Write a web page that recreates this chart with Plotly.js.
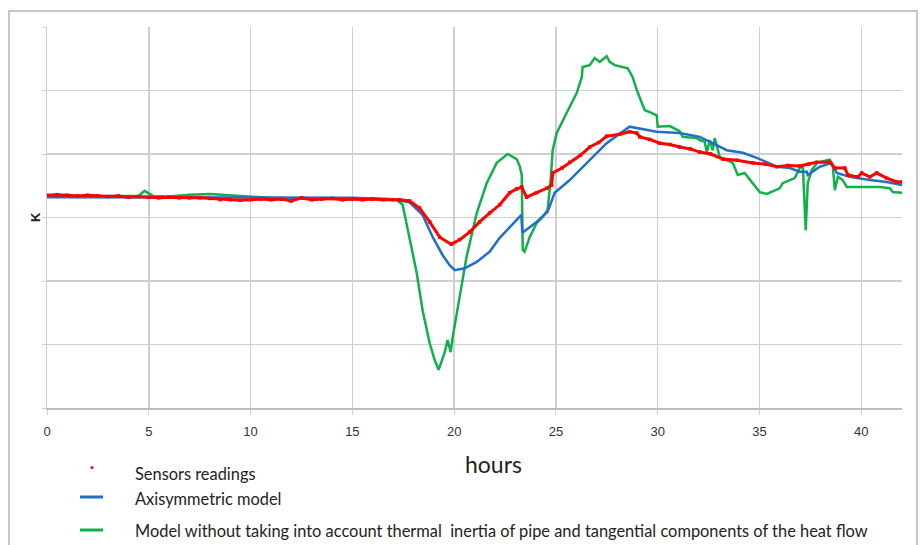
<!DOCTYPE html>
<html>
<head>
<meta charset="utf-8">
<script src="https://cdn.plot.ly/plotly-3.0.1.min.js"></script>
<style>html,body{margin:0;padding:0;background:#fff;}#chart{width:920px;height:545px;}</style>
</head>
<body>
<div id="chart"></div>
<script>
// Hours
const sensorHours = [0,0.5,1,1.5,2,2.5,3,3.5,4,4.5,5,5.5,6,6.5,7,7.5,8,8.5,9,9.5,10,10.5,11,11.5,12,12.5,13,13.5,14,14.5,15,15.5,16,16.5,17,17.32,17.81,18.3,18.8,19.29,19.86,20.27,20.76,21.25,21.74,22.24,22.73,23.07,23.32,23.56,24.05,24.55,24.79,24.84,25.3,25.68,26.2,26.66,27.1,27.49,28.13,28.62,28.97,29.12,29.6,30.1,30.6,31.08,31.6,32.06,32.6,33.2,33.9,34.67,35.3,35.85,36.4,36.98,37.4,37.81,38.45,38.7,39.19,39.34,39.83,40.02,40.42,40.76,41.25,41.74,42];
const sensorK = [3.35,3.36,3.35,3.34,3.35,3.34,3.33,3.34,3.32,3.33,3.32,3.31,3.32,3.31,3.31,3.31,3.30,3.28,3.28,3.27,3.28,3.29,3.28,3.29,3.26,3.31,3.28,3.29,3.30,3.28,3.29,3.28,3.29,3.28,3.28,3.28,3.26,3.15,2.93,2.69,2.58,2.65,2.77,2.93,3.07,3.20,3.39,3.45,3.48,3.32,3.39,3.46,3.51,3.70,3.78,3.87,3.98,4.11,4.18,4.28,4.31,4.35,4.33,4.27,4.23,4.17,4.15,4.11,4.08,4.03,4.00,3.92,3.90,3.86,3.84,3.80,3.82,3.81,3.84,3.87,3.87,3.78,3.78,3.67,3.64,3.70,3.64,3.70,3.62,3.56,3.56];

const axiHours = [0,5,10,12,15,16.83,17.81,18.45,18.95,19.43,19.78,20.03,20.52,21.11,21.74,22.24,22.73,23.3,23.35,24.05,24.59,24.94,25.68,26.51,27.49,28.62,28.97,29.95,31.08,32.06,32.7,33.39,34.18,34.87,35.85,36.49,36.98,37.32,37.37,37.96,38.55,38.8,39.43,40.42,41.25,42];
const axiK = [3.32,3.32,3.32,3.31,3.31,3.29,3.24,3.04,2.69,2.41,2.25,2.17,2.20,2.30,2.46,2.68,2.85,3.04,2.76,2.93,3.09,3.39,3.59,3.86,4.17,4.43,4.41,4.35,4.33,4.27,4.17,4.06,4.02,3.94,3.80,3.78,3.72,3.72,3.67,3.80,3.86,3.70,3.64,3.59,3.56,3.51];

const simpleHours = [0,2,4,4.5,4.79,5.2,6,7,8,9,10,11,12,13,14,15,16,16.83,17.17,17.47,17.81,18.16,18.45,18.8,19.04,19.24,19.53,19.68,19.83,19.93,20.27,20.61,21.11,21.6,22.09,22.63,23.07,23.22,23.32,23.37,23.46,23.71,24.05,24.35,24.59,24.74,24.84,25.04,25.53,26.02,26.27,26.31,26.66,26.9,27.15,27.49,27.64,27.89,28.53,28.77,28.97,29.21,29.36,29.61,29.95,30,30.1,30.59,31.08,31.23,31.92,32.06,32.31,32.41,32.56,32.7,32.8,33.05,33.69,33.93,34.27,34.67,35.01,35.36,35.99,36.14,36.73,36.98,37.13,37.27,37.37,37.57,37.86,38.45,38.6,38.7,38.85,39.09,39.29,39.93,40.91,41.4,41.55,42];
const simpleK = [3.34,3.34,3.35,3.34,3.42,3.34,3.33,3.36,3.37,3.35,3.32,3.31,3.29,3.30,3.29,3.29,3.29,3.29,3.28,3.20,2.69,2.13,1.54,1.02,0.76,0.60,0.87,1.07,0.88,1.12,1.75,2.38,3.07,3.54,3.86,4.00,3.92,3.81,3.67,2.49,2.46,2.69,2.91,3.01,3.12,3.59,4.06,4.33,4.65,4.96,5.21,5.37,5.40,5.51,5.45,5.54,5.45,5.40,5.35,5.21,5.01,4.82,4.69,4.66,4.61,4.43,4.43,4.44,4.36,4.27,4.25,4.22,4.19,4.03,4.22,4.06,4.25,3.95,3.86,3.67,3.70,3.54,3.40,3.37,3.46,3.54,3.62,3.78,3.81,2.80,3.54,3.75,3.87,3.91,3.81,3.43,3.64,3.59,3.48,3.48,3.48,3.46,3.40,3.39];

const xTicks = [0,5,10,15,20,25,30,35,40];
const legendLabels = ["Sensors readings","Axisymmetric model","Model without taking into account thermal&nbsp; inertia of pipe and tangential components of the heat flow"];
const xTitle = "hours";
const yTitle = "K";

const RED = "#ff0000", BLUE = "#1f70c8", GREEN = "#10b04a";

const traces = [
  {x: simpleHours, y: simpleK, mode: "lines", line: {color: GREEN, width: 2.5}, name: legendLabels[2]},
  {x: axiHours, y: axiK, mode: "lines", line: {color: BLUE, width: 2.5}, name: legendLabels[1]},
  {x: sensorHours, y: sensorK, mode: "lines+markers", line: {color: RED, width: 3}, marker: {color: RED, size: 3.5, symbol: "square"}, name: legendLabels[0]}
];

const L = 47, R = 18, T = 27, B = 137, W = 920, H = 545;
const pw = W - L - R, ph = H - T - B;
const px2x = p => (p - L) / pw;
const py2y = p => (H - B - p) / ph;

const legFont = {family: "Lato, 'Open Sans', sans-serif", size: 16.4, color: "#222"};

const layout = {
  width: W, height: H,
  margin: {l: L, r: R, t: T, b: B},
  paper_bgcolor: "#fff", plot_bgcolor: "#fff",
  showlegend: false,
  xaxis: {
    range: [0, 42], tickvals: xTicks, ticktext: xTicks.map(String),
    showgrid: true, gridcolor: "#cfcfcf", gridwidth: 1.5,
    zeroline: false, showline: true, linecolor: "#bdbdbd", linewidth: 1.5,
    ticks: "outside", ticklen: 5, tickcolor: "#cfcfcf",
    tickfont: {family: "'Liberation Sans', Arial, sans-serif", size: 13, color: "#333"},
    ticklabelstandoff: 6, fixedrange: true
  },
  yaxis: {
    range: [0, 6], dtick: 1, tick0: 0,
    showgrid: true, gridcolor: "#cfcfcf", gridwidth: 1.5,
    zeroline: false, showline: true, linecolor: "#cfcfcf", linewidth: 1.5,
    ticks: "outside", ticklen: 4, tickcolor: "#cfcfcf",
    showticklabels: false, fixedrange: true
  },
  shapes: [
    {type: "rect", xref: "paper", yref: "paper", x0: px2x(9), x1: px2x(917), y0: py2y(600), y1: py2y(11), line: {color: "#b5b5b5", width: 1.5}, fillcolor: "rgba(0,0,0,0)", layer: "below"},
    {type: "circle", xref: "paper", yref: "paper", x0: px2x(90.5), x1: px2x(93.5), y0: py2y(469), y1: py2y(466), line: {width: 0}, fillcolor: RED},
    {type: "line", xref: "paper", yref: "paper", x0: px2x(80), x1: px2x(103), y0: py2y(497), y1: py2y(497), line: {color: BLUE, width: 3}},
    {type: "line", xref: "paper", yref: "paper", x0: px2x(80), x1: px2x(103), y0: py2y(530), y1: py2y(530), line: {color: GREEN, width: 3}}
  ],
  annotations: [
    {text: legendLabels[0], xref: "paper", yref: "paper", x: px2x(133), y: py2y(473), xanchor: "left", yanchor: "middle", showarrow: false, font: legFont},
    {text: legendLabels[1], xref: "paper", yref: "paper", x: px2x(133), y: py2y(498), xanchor: "left", yanchor: "middle", showarrow: false, font: legFont},
    {text: legendLabels[2], xref: "paper", yref: "paper", x: px2x(133), y: py2y(530), xanchor: "left", yanchor: "middle", showarrow: false, font: legFont},
    {text: xTitle, xref: "paper", yref: "paper", x: px2x(494), y: py2y(464), xanchor: "center", yanchor: "middle", showarrow: false, font: {family: "Lato, 'Open Sans', sans-serif", size: 23, color: "#222"}},
    {text: "<b>" + yTitle + "</b>", xref: "paper", yref: "paper", x: px2x(35), y: py2y(217), xanchor: "center", yanchor: "middle", textangle: -90, showarrow: false, font: {family: "'Liberation Sans', Arial, sans-serif", size: 13, color: "#222"}}
  ]
};

Plotly.newPlot("chart", traces, layout, {displayModeBar: false, staticPlot: true});
</script>
</body>
</html>
